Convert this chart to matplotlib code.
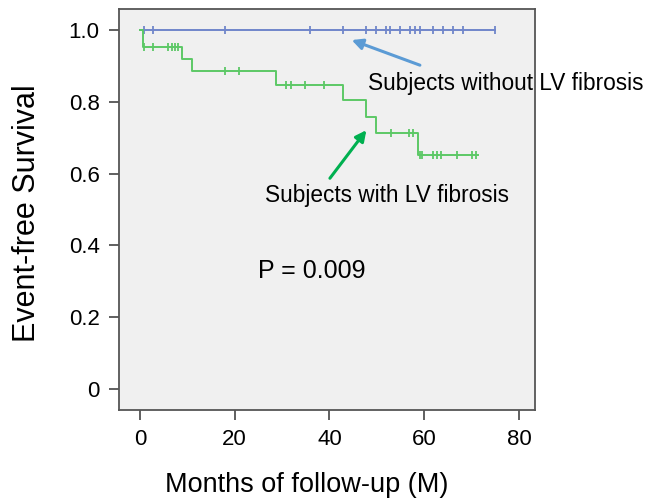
import numpy as np
import matplotlib.pyplot as plt

plt.rcParams['font.family'] = ['Liberation Sans', 'DejaVu Sans']

# Kaplan-Meier steps
no_fib_times = [0, 74.9]
no_fib_surv = [1.0, 1.0]
no_fib_censor = [0.9, 2.8, 17.9, 35.9, 42.9, 47.8, 49.8, 51.9, 52.7, 54.9,
                 57.0, 58.0, 59.1, 61.9, 64.0, 66.1, 68.2, 74.9]

fib_times = [0, 0.6, 8.8, 10.9, 28.8, 42.9, 47.8, 49.8, 58.8, 71.4]
fib_surv = [1.0, 0.953, 0.918, 0.886, 0.847, 0.805, 0.758, 0.714, 0.652, 0.652]
fib_censor = [0.8, 2.8, 6.0, 6.7, 7.4, 8.1, 17.9, 21.0, 30.9, 31.8, 34.8, 38.8,
              52.9, 56.8, 57.7, 59.1, 59.6, 61.9, 62.7, 63.6, 66.9, 70.0, 70.9]

xticks = [0, 20, 40, 60, 80]
yticks = [0, 0.2, 0.4, 0.6, 0.8, 1.0]
ytick_labels = ['0', '0.2', '0.4', '0.6', '0.8', '1.0']

blue = '#7086ca'
green = '#5cc866'


def level_at(times, surv, t):
    idx = np.searchsorted(times, t, side='right') - 1
    return np.asarray(surv)[idx]


fig = plt.figure(figsize=(6.67, 5), dpi=100)
ax = fig.add_axes([0.1784, 0.18, 0.6237, 0.802])
ax.set_facecolor('#f0f0f0')

ax.step(no_fib_times, no_fib_surv, where='post', color=blue, lw=1.4)
ax.plot(no_fib_censor, level_at(no_fib_times, no_fib_surv, no_fib_censor),
        ls='none', marker='|', ms=5.5, mew=1.3, color=blue)

ax.step(fib_times, fib_surv, where='post', color=green, lw=1.4)
ax.plot(fib_censor, level_at(fib_times, fib_surv, fib_censor),
        ls='none', marker='|', ms=5.5, mew=1.3, color=green)

ax.annotate('', xy=(44.7, 0.972), xytext=(59.1, 0.902),
            arrowprops=dict(arrowstyle='-|>', color='#5b9bd5', lw=2.2,
                            mutation_scale=16, shrinkA=0, shrinkB=0))
ax.annotate('', xy=(47.8, 0.721), xytext=(40.1, 0.587),
            arrowprops=dict(arrowstyle='-|>', color='#00b050', lw=2.2,
                            mutation_scale=16, shrinkA=0, shrinkB=0))

ax.text(48.1, 0.852, 'Subjects without LV fibrosis', fontsize=16.3,
        va='center', ha='left')
ax.text(26.5, 0.54, 'Subjects with LV fibrosis', fontsize=16.3,
        va='center', ha='left')
ax.text(24.9, 0.33, 'P = 0.009', fontsize=18, va='center', ha='left')

ax.set_xlim(-4.43, 83.4)
ax.set_ylim(-0.0585, 1.0585)
ax.set_xticks(xticks)
ax.set_yticks(yticks)
ax.set_yticklabels(ytick_labels)
ax.tick_params(axis='both', labelsize=16, length=7, width=1.2, color='#444444',
               pad=7)
for s in ax.spines.values():
    s.set_color('#555555')
    s.set_linewidth(1.3)

ax.set_xlabel('Months of follow-up (M)', fontsize=19.5)
ax.xaxis.set_label_coords(0.452, -0.155)
ax.set_ylabel('Event-free Survival', fontsize=22)
ax.yaxis.set_label_coords(-0.185, 0.49)

fig.savefig('out.png', dpi=100)
